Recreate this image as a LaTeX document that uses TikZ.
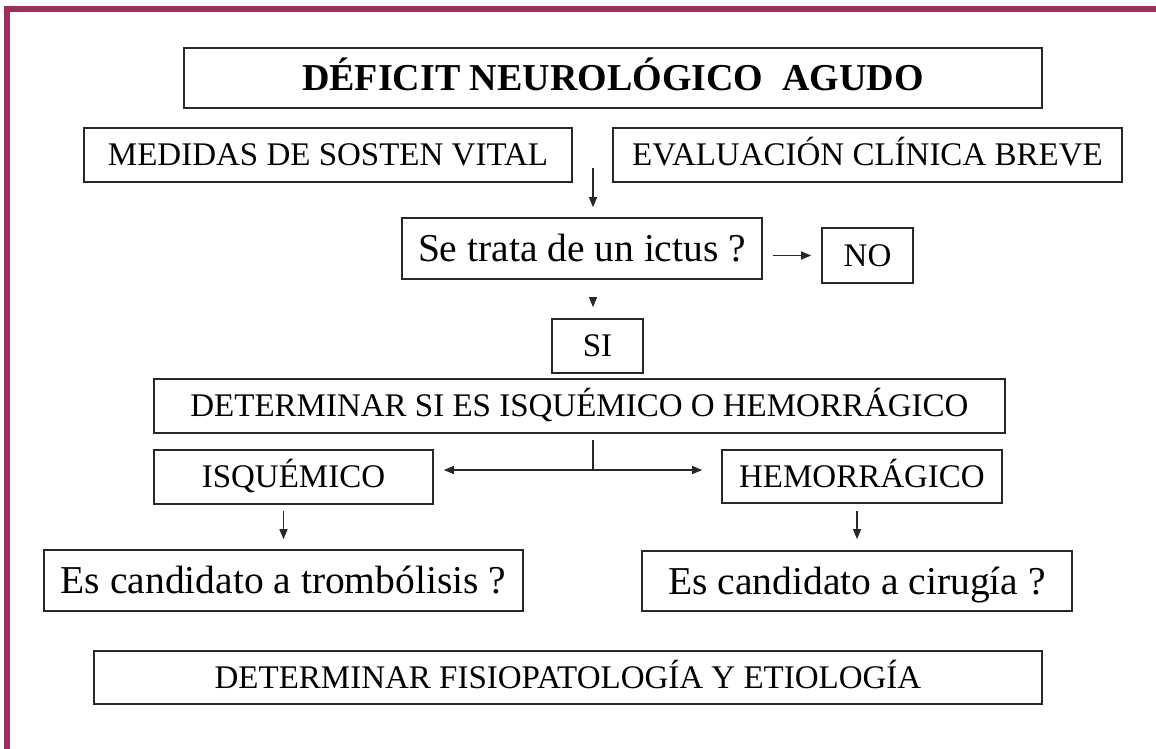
\documentclass[tikz,border=0pt]{standalone}
\usepackage{fontspec}
\setmainfont{Liberation Serif}
\usetikzlibrary{arrows.meta}
\definecolor{borde}{RGB}{158,48,96}
\definecolor{trazo}{RGB}{40,40,40}

\begin{document}
\begin{tikzpicture}[x=1pt, y=-1pt,
  caja/.style={draw=trazo, line width=1.6pt, inner sep=0pt, align=center, text height=21.8pt, text depth=0pt, font=\fontsize{33}{36}\selectfont},
  pregunta/.style={caja, text height=26pt, font=\fontsize{39.5}{44}\selectfont},
  linea/.style={draw=trazo, line width=1.4pt},
  flecha/.style={linea, -{Triangle[length=10pt, width=8pt]}}]
\useasboundingbox (0,0) rectangle (1156,749);
% marco
\fill[borde] (4,6) rectangle (1156,12);
\fill[borde] (4,6) rectangle (10,749);
% cajas
\node[caja, minimum width=858pt, minimum height=60pt, text height=25pt, font=\bfseries\fontsize{38}{40}\selectfont] (titulo) at (613,78) {DÉFICIT NEUROLÓGICO\ \ AGUDO};
\node[caja, minimum width=488pt, minimum height=54pt] (medidas) at (328,155) {MEDIDAS DE SOSTEN VITAL};
\node[caja, minimum width=509pt, minimum height=54pt] (evaluacion) at (867.5,155) {EVALUACIÓN CLÍNICA BREVE};
\node[pregunta, minimum width=360pt, minimum height=61pt] (ictus) at (582,248.5) {Se trata de un ictus ?};
\node[caja, minimum width=91pt, minimum height=55pt] (no) at (867.5,255.5) {NO};
\node[caja, minimum width=91pt, minimum height=54pt] (si) at (597.5,346) {SI};
\node[caja, minimum width=851pt, minimum height=54pt] (determinar) at (579.5,406) {DETERMINAR SI ES ISQUÉMICO O HEMORRÁGICO};
\node[caja, minimum width=279pt, minimum height=54pt] (isquemico) at (293.5,477) {ISQUÉMICO};
\node[caja, minimum width=280pt, minimum height=53pt] (hemorragico) at (862,476.5) {HEMORRÁGICO};
\node[pregunta, minimum width=479pt, minimum height=61pt] (trombolisis) at (283.5,580.5) {Es candidato a trombólisis ?};
\node[pregunta, minimum width=430pt, minimum height=60pt] (cirugia) at (857,581) {Es candidato a cirugía ?};
\node[caja, minimum width=948pt, minimum height=53pt] (fisiopatologia) at (568,677.5) {DETERMINAR FISIOPATOLOGÍA Y ETIOLOGÍA};
% conectores
\coordinate (eje) at (593,168);
\coordinate (rama) at (593,470);
\draw[flecha, shorten >=10pt] (eje) -- (eje |- ictus.north);
\draw[flecha, shorten <=10pt, shorten >=10pt] (ictus.east |- no.west) -- (no.west);
\draw[flecha, shorten <=18pt, shorten >=11pt] (eje |- ictus.south) -- (eje |- si.north);
\draw[linea, shorten <=6pt] (eje |- determinar.south) -- (rama);
\draw[flecha, shorten >=10pt] (rama) -- (rama -| isquemico.east);
\draw[flecha, shorten >=19pt] (rama) -- (rama -| hemorragico.west);
\draw[flecha, shorten <=6pt, shorten >=10pt] (trombolisis.north |- isquemico.south) -- (trombolisis.north);
\draw[flecha, shorten <=7pt, shorten >=11pt] (cirugia.north |- hemorragico.south) -- (cirugia.north);
\end{tikzpicture}
\end{document}
